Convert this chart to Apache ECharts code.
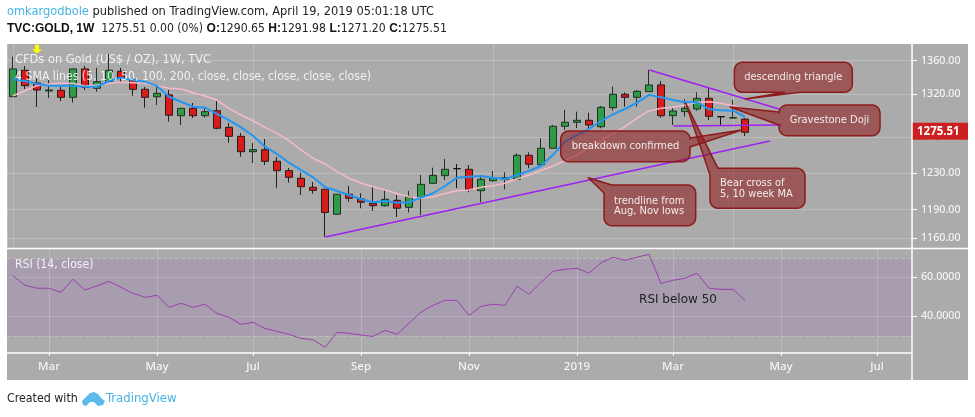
<!DOCTYPE html>
<html><head><meta charset="utf-8">
<style>html,body{margin:0;padding:0;background:#fff}#c{width:975px;height:417px}</style>
<script src="https://cdn.jsdelivr.net/npm/echarts@6/dist/echarts.min.js"></script>
</head><body><div id="c"></div>
<script>
// [open, close, low, high], one row per week from 2018-02-12
const candles = [
[1316.8,1350.0,1316.8,1364.9],[1348.4,1329.9,1326.0,1353.6],[1333.1,1324.8,1304.7,1339.1],[1323.6,1324.8,1315.3,1336.7],
[1324.4,1316.1,1311.7,1328.4],[1316.1,1350.0,1309.8,1350.5],[1350.0,1328.0,1324.8,1353.6],[1326.8,1334.7,1322.8,1351.2],
[1334.7,1348.4,1333.1,1368.2],[1347.2,1338.8,1334.3,1351.2],[1336.7,1325.6,1318.0,1339.1],[1325.6,1316.1,1303.9,1328.4],
[1316.8,1320.8,1307.1,1328.4],[1319.0,1295.1,1287.7,1324.8],[1294.6,1303.2,1283.9,1303.5],[1303.2,1294.6,1291.9,1309.4],
[1294.6,1299.3,1292.3,1305.1],[1300.4,1280.1,1278.9,1311.7],[1281.2,1270.9,1263.7,1286.2],[1270.9,1253.5,1247.9,1274.7],
[1253.5,1255.8,1240.9,1263.3],[1255.8,1242.8,1238.7,1267.8],[1242.8,1232.4,1213.7,1247.6],[1232.4,1225.1,1219.2,1235.4],
[1224.0,1214.8,1205.8,1230.2],[1214.2,1210.9,1207.2,1219.9],[1212.0,1187.1,1161.6,1212.3],[1185.2,1206.6,1185.0,1207.0],
[1206.6,1202.3,1198.6,1215.6],[1201.5,1198.0,1191.6,1207.7],[1196.9,1194.3,1188.7,1214.8],[1194.3,1201.2,1193.3,1212.3],
[1200.1,1191.6,1182.3,1205.8],[1192.6,1204.1,1186.9,1210.2],[1202.9,1217.4,1184.4,1227.6],[1218.5,1227.3,1218.3,1235.7],
[1226.9,1233.9,1222.1,1245.3],[1234.6,1234.6,1213.4,1239.8],[1233.9,1211.3,1208.8,1238.7],[1210.5,1222.9,1198.0,1225.8],
[1221.3,1224.7,1220.3,1232.0],[1222.9,1224.7,1212.0,1230.6],[1222.9,1249.5,1222.7,1251.7],[1249.5,1239.5,1235.0,1252.8],
[1239.0,1257.4,1238.8,1268.6],[1257.4,1282.4,1257.1,1283.9],[1282.4,1287.0,1278.2,1301.3],[1287.0,1289.3,1280.4,1299.3],
[1289.3,1283.9,1280.1,1298.1],[1281.9,1304.4,1280.1,1305.9],[1303.9,1319.7,1300.4,1328.7],[1319.7,1316.1,1305.1,1322.1],
[1316.1,1323.2,1305.1,1324.8],[1322.8,1330.8,1322.6,1348.8],[1330.8,1294.6,1292.3,1335.5],[1294.6,1300.1,1283.9,1304.7],
[1299.3,1303.2,1293.4,1313.7],[1302.4,1314.9,1300.4,1322.1],[1314.9,1293.9,1289.6,1326.8],[1293.4,1293.4,1283.9,1293.6],
[1291.9,1292.3,1291.5,1312.9],[1290.65,1275.51,1271.20,1291.98]];
const smaFast = [1337.5,1335.5,1331.9,1329.9,1329.9,1329.9,1328.7,1328.7,1335.5,1339.5,1336.7,1334.7,1329.6,1316.8,1310.9,1305.1,1303.9,1296.6,1289.6,1281.2,1271.6,1259.2,1251,1241.2,1233.1,1225.1,1214.5,1210.2,1205.8,1201.2,1198,1199.3,1197.5,1198,1203,1207.7,1215.6,1224.7,1225.8,1226.6,1224.7,1223.2,1227.6,1232,1237.6,1250.1,1264.8,1272.3,1279.3,1288.5,1296.2,1302.4,1309.8,1319,1316.1,1312.9,1310.2,1310.2,1302.1,1300.9,1300.4,1293.4];
const smaSlow = [1318,1323.9,1329.9,1331.9,1332.8,1332.8,1329.6,1330.8,1332.8,1334,1333.5,1332.8,1329.9,1326.8,1326,1321.6,1317.7,1312.9,1303.2,1295.4,1288.8,1281.2,1274.3,1265.9,1255.5,1246.2,1239.8,1231.4,1224,1218.8,1214.8,1211.3,1207.4,1204,1202.3,1204,1207.4,1210.5,1211.3,1214.2,1215.9,1218.5,1223.2,1227.6,1232.6,1237.6,1243.6,1250.1,1257.7,1266.1,1274,1281.9,1291.9,1300.1,1303.2,1304.4,1307.1,1310.2,1310.9,1309,1306.2,1302.1];
const rsi = [60.7,55.9,54.4,54.4,52.3,59,53.5,55.6,57.9,54.9,51.8,49.7,50.8,44.6,46.7,44.6,46.2,41.5,39.5,35.9,36.9,33.8,32.3,30.8,28.7,28,24.1,31.8,31.3,30.4,29.7,32.8,30.8,36.4,42.2,45.6,48.2,48.2,40.5,45.1,46.2,45.6,55.4,51.3,57.4,63.1,64.1,64.6,62.1,67.4,70.3,68.7,70.3,71.8,56.9,58.5,59.5,62.1,54.4,53.8,53.8,48.2];
const monthTickWeeks = [3,12,20,29,38,47,55,64,72];
const monthTickLabels = ['Mar','May','Jul','Sep','Nov','2019','Mar','May','Jul'];
const priceTicks = [1360,1320,1270,1230,1190,1160];
const rsiTicks = [60,40];
const lastClose = 1275.51;
const trendSupport = [[26.03,1161.2],[63.08,1265.6]];
const triangleUpper = [[53.03,1348.8],[63.9,1302.2]];
const triangleLower = [[55.03,1282.7],[64.06,1283.9]];
const signalWeeks = [[2,1374],[7,1381]];

const FONT = '"Noto Sans", sans-serif';
const COND = '"DejaVu Sans Condensed", "Noto Sans", sans-serif';
const GRID = 'rgba(255,255,255,0.22)';
const TXT = '#f4f4f4';

function callout(x0,y0,x1,y1,side,tail){
  const r=8, p=[];
  const arc=(cx,cy,a0)=>{for(let k=0;k<=6;k++){const a=(a0+15*k)*Math.PI/180;p.push([cx+r*Math.cos(a),cy+r*Math.sin(a)]);}};
  arc(x1-r,y0+r,-90);
  if(side==='right')p.push(...tail);
  arc(x1-r,y1-r,0);
  if(side==='bottom')p.push(...tail);
  arc(x0+r,y1-r,90);
  if(side==='left')p.push(...tail);
  if(side==='corner')p.push(...tail); else arc(x0+r,y0+r,180);
  return {type:'polygon',z:100,shape:{points:p},style:{fill:'rgba(140,20,20,0.55)',stroke:'#8E1B1B',lineWidth:1.5,lineJoin:'round'}};
}
function note(x,y,text,color,align){
  return {type:'text',z:101,x:x,y:y,style:{text:text,fill:color||'#f3eaea',font:'11px '+COND,align:align||'center',verticalAlign:'middle',lineHeight:10.5}};
}
const hline=(x0,y,x1,w)=>({type:'line',z:50,shape:{x1:x0,y1:y,x2:x1,y2:y},style:{stroke:'#fff',lineWidth:w||1.5}});

const graphics=[
 {type:'rect',z:-10,shape:{x:7,y:44,width:961,height:336},style:{fill:'#ABABAB'}},
 hline(7,248.5,968),hline(7,353,912),
 {type:'line',z:50,shape:{x1:912,y1:44,x2:912,y2:380},style:{stroke:'#fff',lineWidth:1.5}},
 {type:'text',z:60,x:7,y:12,style:{verticalAlign:'middle',text:'{a|omkargodbole}{b| published on TradingView.com, April 19, 2019 05:01:18 UTC}',rich:{a:{fill:'#45B3E7',font:'12.7px '+COND},b:{fill:'#222',font:'12.7px '+COND}}}},
 {type:'text',z:60,x:7,y:29,style:{verticalAlign:'middle',text:'{a|TVC:GOLD, 1W}{b|  1275.51 0.00 (0%) }{a|O:}{b|1290.65 }{a|H:}{b|1291.98 }{a|L:}{b|1271.20 }{a|C:}{b|1275.51}',rich:{a:{fill:'#111',font:'700 12px "Liberation Sans", sans-serif'},b:{fill:'#222',font:'12.1px '+COND}}}},
 {type:'text',z:60,x:15,y:60,style:{text:'CFDs on Gold (US$ / OZ), 1W, TVC',fill:'rgba(255,255,255,0.82)',font:'12.7px '+COND,verticalAlign:'middle'}},
 {type:'text',z:60,x:15,y:77,style:{text:'4 SMA lines (5, 10, 50, 100, 200, close, close, close, close, close)',fill:'rgba(255,255,255,0.82)',font:'12.2px '+COND,verticalAlign:'middle'}},
 {type:'text',z:60,x:15,y:265,style:{text:'RSI (14, close)',fill:'rgba(255,255,255,0.85)',font:'12.1px '+COND,verticalAlign:'middle'}},
 callout(734.3,62.3,852.3,92.3,'bottom',[[800,92.3],[745,99],[785,92.3]]),
 note(793.3,77.3,'descending triangle'),
 callout(779,105,880,135.7,'left',[[779,125],[730,107],[779,112]]),
 note(829.5,120,'Gravestone Doji'),
 callout(560.7,131,690,161.7,'right',[[690,138],[741.7,130],[690,147]]),
 note(625.5,146,'breakdown confirmed'),
 callout(710,168.3,805,208.3,'corner',[[710,175],[685.7,103.3],[718,168.3]]),
 note(720,188.5,'Bear cross of\n5, 10 week MA','#f3eaea','left'),
 callout(604,185,695.7,225.7,'corner',[[604,193],[588.3,177.7],[611.7,185]]),
 note(614,206,'trendline from\nAug, Nov lows','#f3eaea','left'),
 {type:'text',z:101,x:678,y:300,style:{text:'RSI below 50',fill:'#222',font:'12px "DejaVu Sans", sans-serif',align:'center',verticalAlign:'middle'}},
 {type:'text',z:60,x:7,y:399,style:{text:'Created with',fill:'#222',font:'12.3px '+COND,verticalAlign:'middle'}},
 {type:'polygon',z:60,shape:{points:[[82,401],[90,393],[94,392],[98,394],[101,398],[105,401],[103,405],[98,406],[94,402],[90,402],[86,406],[83,405]]},style:{fill:'#5CBBEA'}},
 {type:'text',z:60,x:106,y:399,style:{text:'TradingView',fill:'#45B3E7',font:'13px '+COND,verticalAlign:'middle'}}
];

const lineSeries=(name,data,color,w)=>({name,type:'line',xAxisIndex:0,yAxisIndex:0,data,showSymbol:false,silent:true,z:5,lineStyle:{color,width:w},itemStyle:{color}});
const idx=a=>a.map((v,i)=>[i,v]);

const chart=echarts.init(document.getElementById('c'),null,{renderer:'canvas',width:975,height:417});
chart.setOption({
 animation:false,backgroundColor:'#fff',
 textStyle:{fontFamily:FONT},
 graphic:{elements:graphics},
 grid:[{left:7,right:63,top:44,height:204},{left:7,right:63,top:249,height:104}],
 xAxis:[
  {type:'value',gridIndex:0,min:-0.5,max:74.917,axisLine:{show:false,onZero:false},axisTick:{show:false},axisLabel:{show:false,customValues:monthTickWeeks},splitLine:{show:true,lineStyle:{color:GRID}}},
  {type:'value',gridIndex:1,min:-0.5,max:74.917,axisLine:{show:false,onZero:false},
   axisTick:{show:true,length:3,customValues:monthTickWeeks,lineStyle:{color:'#fff'}},
   axisLabel:{show:true,customValues:monthTickWeeks,margin:8,color:TXT,fontSize:11.5,fontWeight:500,fontFamily:FONT,formatter:v=>monthTickLabels[monthTickWeeks.indexOf(v)]||''},
   splitLine:{show:true,lineStyle:{color:GRID}}}
 ],
 yAxis:[
  {type:'log',gridIndex:0,position:'right',min:1149.9,max:1380.5,axisLine:{show:false,onZero:false},
   axisTick:{show:true,length:5,customValues:priceTicks,lineStyle:{color:'#fff'}},
   axisLabel:{customValues:priceTicks,margin:9,color:TXT,fontSize:10.7,fontWeight:500,fontFamily:FONT,formatter:v=>(+v).toFixed(2)},
   splitLine:{show:true,lineStyle:{color:GRID}}},
  {type:'value',gridIndex:1,position:'right',min:21.2,max:74.5,axisLine:{show:false,onZero:false},
   axisTick:{show:true,length:5,customValues:rsiTicks,lineStyle:{color:'#fff'}},
   axisLabel:{customValues:rsiTicks,margin:9,color:TXT,fontSize:10.7,fontWeight:500,fontFamily:FONT,formatter:v=>(+v).toFixed(4)},
   splitLine:{show:true,lineStyle:{color:GRID}}}
 ],
 series:[
  {name:'Gold',type:'candlestick',xAxisIndex:0,yAxisIndex:0,barWidth:8,z:3,silent:true,
   data:candles.map((c,i)=>[i,...c]),encode:{x:0,y:[1,2,3,4]},
   itemStyle:{color:'#2F9A48',color0:'#D81C1C',borderColor:'#1f2f22',borderColor0:'#2a1a1a',borderColorDoji:'#111',borderWidth:1},
   markLine:{silent:true,symbol:'none',animation:false,data:[{yAxis:lastClose}],lineStyle:{color:'transparent',width:0},
    label:{show:true,position:'end',formatter:()=>lastClose.toFixed(2),distance:0,offset:[0,-1],backgroundColor:'#CC1F1F',color:'#fff',fontWeight:700,fontSize:11.5,fontFamily:FONT,width:46,height:13,lineHeight:13,align:'left',padding:[2,5,2,5],verticalAlign:'middle'}}},
  {name:'triangle','type':'line',xAxisIndex:0,yAxisIndex:0,data:triangleUpper,showSymbol:false,silent:true,z:6,lineStyle:{color:'#A020F0',width:1.5}},
  {name:'triangle low','type':'line',xAxisIndex:0,yAxisIndex:0,data:triangleLower,showSymbol:false,silent:true,z:6,lineStyle:{color:'#A020F0',width:1.5}},
  {name:'trendline','type':'line',xAxisIndex:0,yAxisIndex:0,data:trendSupport,showSymbol:false,silent:true,z:6,lineStyle:{color:'#A020F0',width:1.5}},
  lineSeries('SMA 10',idx(smaSlow),'#F6B9CB',1.5),
  lineSeries('SMA 5',idx(smaFast),'#2196F3',2),
  {name:'signals',type:'scatter',xAxisIndex:0,yAxisIndex:0,data:signalWeeks,silent:true,z:7,symbol:'path://M3 0H7V5H10L5 10L0 5H3Z',symbolSize:[10,9],itemStyle:{color:'#FFFF00',opacity:1}},
  {name:'RSI',type:'line',xAxisIndex:1,yAxisIndex:1,data:idx(rsi),showSymbol:false,silent:true,z:5,lineStyle:{color:'#9C3FB0',width:1},
   markArea:{silent:true,itemStyle:{color:'rgba(150,70,200,0.13)'},data:[[{yAxis:70},{yAxis:30}]]},
   markLine:{silent:true,symbol:'none',label:{show:false},lineStyle:{color:'#bdbdbd',type:'dashed',width:1},data:[{yAxis:70},{yAxis:30}]}}
 ]
});
</script></body></html>
